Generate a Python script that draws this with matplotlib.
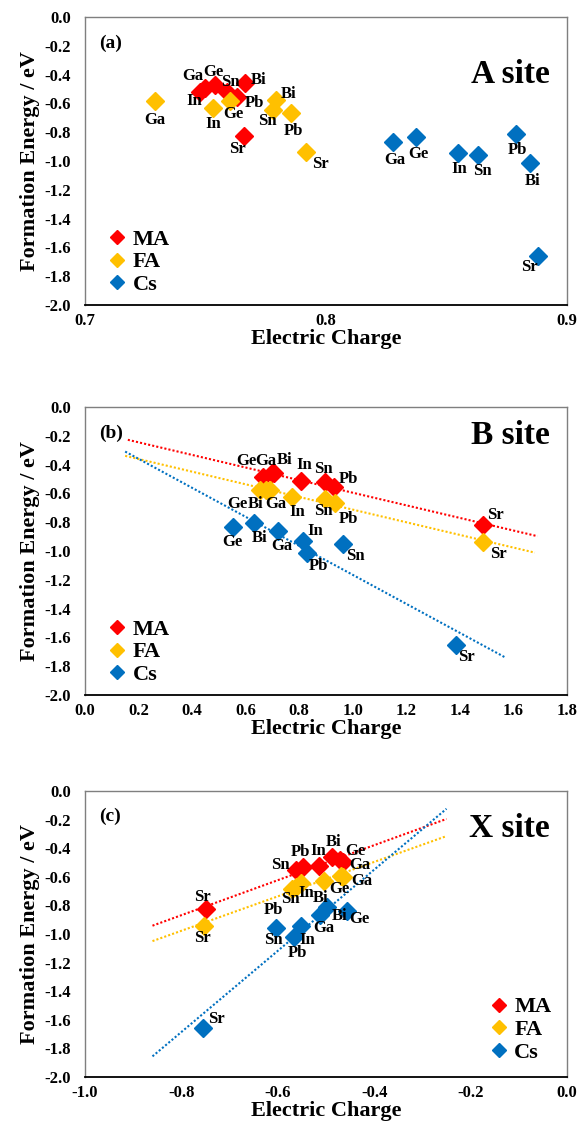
import numpy as np
import matplotlib
matplotlib.use("Agg")
import matplotlib.pyplot as plt

plt.rcParams["font.family"] = ["Liberation Serif", "DejaVu Serif"]
plt.rcParams["font.weight"] = "bold"

elements = ["Ga", "Ge", "In", "Sn", "Pb", "Bi", "Sr"]
cations = ["MA", "FA", "Cs"]
colors = {"MA": "#FF0000", "FA": "#FFC000", "Cs": "#0070C0"}

# (a) A site: electric charge / formation energy, order as in elements
a_charge = {
    "MA": [0.7498, 0.7539, 0.7477, 0.7589, 0.7631, 0.7664, 0.7660],
    "FA": [0.7290, 0.7602, 0.7531, 0.7780, 0.7855, 0.7793, 0.7917],
    "Cs": [0.8278, 0.8373, 0.8548, 0.8631, 0.8788, 0.8846, 0.8880],
}
a_energy = {
    "MA": [-0.493, -0.472, -0.521, -0.521, -0.556, -0.458, -0.826],
    "FA": [-0.583, -0.583, -0.632, -0.646, -0.667, -0.576, -0.938],
    "Cs": [-0.868, -0.833, -0.944, -0.958, -0.813, -1.014, -1.660],
}

# (b) B site
b_charge = {
    "MA": [0.698, 0.665, 0.807, 0.896, 0.930, 0.706, 1.486],
    "FA": [0.690, 0.655, 0.773, 0.896, 0.934, 0.675, 1.486],
    "Cs": [0.721, 0.553, 0.814, 0.963, 0.829, 0.631, 1.385],
}
b_energy = {
    "MA": [-0.458, -0.486, -0.514, -0.521, -0.556, -0.458, -0.819],
    "FA": [-0.576, -0.576, -0.625, -0.639, -0.667, -0.576, -0.938],
    "Cs": [-0.861, -0.833, -0.930, -0.951, -1.014, -0.806, -1.653],
}

# (c) X site
c_charge = {
    "MA": [-0.465, -0.471, -0.514, -0.562, -0.548, -0.488, -0.750],
    "FA": [-0.465, -0.469, -0.552, -0.562, -0.570, -0.504, -0.754],
    "Cs": [-0.512, -0.457, -0.552, -0.603, -0.566, -0.498, -0.756],
}
c_energy = {
    "MA": [-0.497, -0.483, -0.524, -0.552, -0.531, -0.462, -0.825],
    "FA": [-0.601, -0.594, -0.643, -0.671, -0.685, -0.629, -0.944],
    "Cs": [-0.867, -0.839, -0.944, -0.958, -1.021, -0.811, -1.657],
}

# label offsets in pixels (dx, dy), order as in elements
a_offsets = {
    "MA": [(-12, 12), (-2, 13), (-6, -9), (3, 10), (17, -6), (14, 3), (-7, -13)],
    "FA": [(0, -19), (3, -13), (0, -16), (-6, -11), (2, -18), (12, 6), (14, -12)],
    "Cs": [(2, -18), (2, -17), (1, -16), (4, -16), (2, -16), (3, -18), (-9, -11)],
}
b_offsets = {
    "MA": [(-6, 12), (-17, 16), (3, 16), (-2, 13), (14, 8), (11, 13), (12, 10)],
    "FA": [(6, -14), (-23, -14), (5, -15), (-2, -12), (13, -16), (-10, -14), (15, -12)],
    "Cs": [(4, -15), (-1, -15), (12, 10), (13, -12), (11, -13), (6, -15), (11, -12)],
}
c_offsets = {
    "MA": [(17, -3), (15, 9), (-1, 15), (-16, 5), (-2, 15), (2, 15), (-3, 12)],
    "FA": [(19, -4), (-2, -13), (5, -10), (-6, -12), (-19, -21), (-3, -17), (-1, -12)],
    "Cs": [(4, -13), (13, -8), (6, -14), (-3, -12), (3, -16), (13, -9), (14, 9)],
}

# extent of the dotted linear trend lines
b_trend = {"MA": (0.16, 1.69), "FA": (0.15, 1.68), "Cs": (0.15, 1.57)}
c_trend = {"MA": (-0.86, -0.25), "FA": (-0.86, -0.25), "Cs": (-0.86, -0.25)}

fig = plt.figure(figsize=(5.85, 11.4), dpi=100)
W, H = 585, 1140


def make_axes(top, bottom):
    return fig.add_axes([85 / W, 1 - bottom / H, 482 / W, (bottom - top) / H])


def style_axes(ax, xlim, xticks):
    ax.set_xlim(*xlim)
    ax.set_ylim(-2.0, 0.0)
    ax.set_xticks(xticks)
    ax.set_xticklabels(["{:.1f}".format(round(t, 1) + 0.0) for t in xticks])
    yt = np.arange(-2.0, 0.01, 0.2)
    ax.set_yticks(yt)
    ax.set_yticklabels(["{:.1f}".format(round(t, 1) + 0.0) for t in yt])
    ax.tick_params(length=0, labelsize=12)
    ax.tick_params(axis="y", pad=10)
    ax.tick_params(axis="x", pad=6)
    for s in ["top", "right", "left"]:
        ax.spines[s].set_color("#7f7f7f")
        ax.spines[s].set_linewidth(1.0)
    ax.spines["bottom"].set_color("black")
    ax.spines["bottom"].set_linewidth(1.3)
    ax.set_xlabel("Electric Charge", fontsize=16, fontweight="bold", labelpad=0)
    ax.set_ylabel("Formation Energy / eV", fontsize=16, fontweight="bold", labelpad=3)


def draw_panel(ax, charge, energy, offsets, trend=None):
    handles = []
    for cat in cations:
        x = np.array(charge[cat])
        y = np.array(energy[cat])
        if trend is not None:
            k, b = np.polyfit(x, y, 1)
            xs = np.array(trend[cat])
            ax.plot(xs, k * xs + b, linestyle=(0, (1, 1)), color=colors[cat], lw=1.5, zorder=1)
        h, = ax.plot(x, y, "D", color=colors[cat], ms=9, mec=colors[cat], label=cat, zorder=3)
        handles.append(h)
        for el, xi, yi, off in zip(elements, x, y, offsets[cat]):
            ax.annotate(el, (xi, yi), xytext=off, textcoords="offset pixels",
                        ha="center", va="center", fontsize=12, fontweight="bold", zorder=4)
    return handles


def add_legend(ax, handles, loc, anchor):
    ax.legend(handles=handles, loc=loc, bbox_to_anchor=anchor, frameon=False,
              prop={"size": 16, "weight": "bold"}, handlelength=0.6, handletextpad=0.4,
              labelspacing=0.1, markerscale=0.75, borderaxespad=0.3)


# (a)
ax1 = make_axes(17, 305)
style_axes(ax1, (0.7, 0.9), [0.7, 0.8, 0.9])
h1 = draw_panel(ax1, a_charge, a_energy, a_offsets)
ax1.text(0.03, 0.94, "(a)", transform=ax1.transAxes, fontsize=14, fontweight="bold", va="top")
ax1.text(0.965, 0.80, "A site", transform=ax1.transAxes, fontsize=24, fontweight="bold",
         ha="right", va="center")
add_legend(ax1, h1, "lower left", (0.02, -0.02))

# (b)
ax2 = make_axes(407, 695)
style_axes(ax2, (0.0, 1.8), np.arange(0.0, 1.81, 0.2))
h2 = draw_panel(ax2, b_charge, b_energy, b_offsets, b_trend)
ax2.text(0.03, 0.94, "(b)", transform=ax2.transAxes, fontsize=14, fontweight="bold", va="top")
ax2.text(0.965, 0.90, "B site", transform=ax2.transAxes, fontsize=24, fontweight="bold",
         ha="right", va="center")
add_legend(ax2, h2, "lower left", (0.02, -0.02))

# (c)
ax3 = make_axes(791, 1077)
style_axes(ax3, (-1.0, 0.0), np.arange(-1.0, 0.01, 0.2))
h3 = draw_panel(ax3, c_charge, c_energy, c_offsets, c_trend)
ax3.text(0.03, 0.94, "(c)", transform=ax3.transAxes, fontsize=14, fontweight="bold", va="top")
ax3.text(0.965, 0.87, "X site", transform=ax3.transAxes, fontsize=24, fontweight="bold",
         ha="right", va="center")
add_legend(ax3, h3, "lower right", (1.0, -0.005))

fig.savefig("out.png", dpi=100)
plt.close(fig)
